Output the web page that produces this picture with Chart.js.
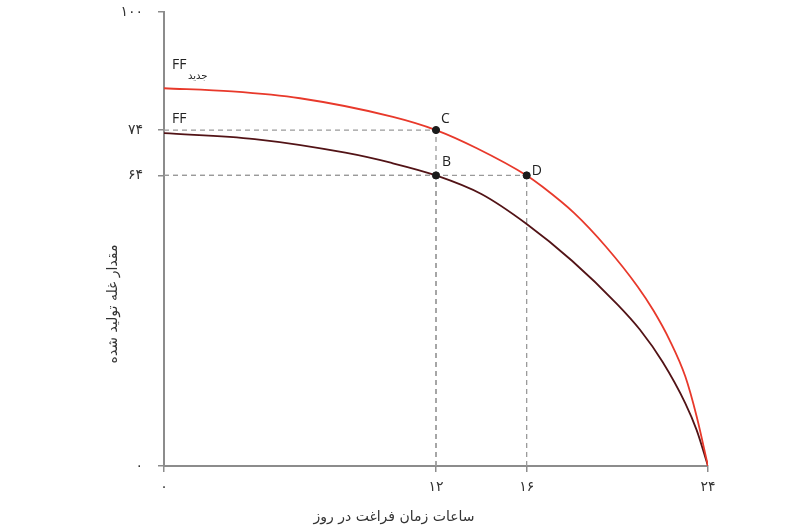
<!DOCTYPE html>
<html lang="fa">
<head>
<meta charset="utf-8">
<title>مرز امکانات</title>
<script src="https://cdn.jsdelivr.net/npm/chart.js@4.4.1/dist/chart.umd.min.js"></script>
<style>
  html, body { margin: 0; padding: 0; background: #fff; }
  #wrap { width: 810px; height: 530px; }
</style>
</head>
<body>
<div id="wrap"><canvas id="chart" width="810" height="530"></canvas></div>
<script>
// داده ها
const leisureTicks = [0, 12, 16, 24];
const grainTicks = [0, 64, 74, 100];

// FF
const ffLeisure = [0, 4, 8, 10, 12, 14, 16, 18, 20, 21, 22, 23, 23.5, 24];
const ffGrain = [73.3, 72.0, 69.0, 66.8, 64, 59.9, 53.3, 45.2, 35.6, 30.0, 22.9, 13.8, 7.9, 0];

// FF جدید
const ffNewLeisure = [0, 3, 6, 10.1, 12, 13.8, 16, 16.7, 18.1, 19.5, 20.9, 21.6, 22.3, 23.0, 23.5, 24];
const ffNewGrain = [83.2, 82.5, 81.0, 76.9, 74, 70.0, 64, 61.5, 55.7, 48.3, 39.5, 34.2, 27.8, 19.7, 10.9, 0];

// نقاط
const pointNames = ['C', 'B', 'D'];
const pointLeisure = [12, 12, 16];
const pointGrain = [74, 64, 64];

const xTitle = 'ساعات زمان فراغت در روز';
const yTitle = 'مقدار غله تولید شده';

const axisColor = '#8c8c8c';
const textColor = '#333';

function toPersian(v) {
    return String(v).replace(/\d/g, d => '۰۱۲۳۴۵۶۷۸۹'[d]);
}

function zip(xs, ys) {
    return xs.map((x, i) => ({ x: x, y: ys[i] }));
}

// خطوط راهنما (از محور به سمت نقطه، تا خط چین ها روی هم بیفتند)
const guideSets = [];
pointNames.forEach((name, i) => {
    const style = {
        borderColor: '#9a9a9a',
        borderWidth: 1.3,
        borderDash: [5, 4],
        pointRadius: 0,
        showLine: true,
        tension: 0
    };
    guideSets.push(Object.assign({ data: [{ x: 0, y: pointGrain[i] }, { x: pointLeisure[i], y: pointGrain[i] }] }, style));
    guideSets.push(Object.assign({ data: [{ x: pointLeisure[i], y: 0 }, { x: pointLeisure[i], y: pointGrain[i] }] }, style));
});

// متن ها
const labelsPlugin = {
    id: 'labels',
    afterDatasetsDraw(chart) {
        const ctx = chart.ctx;
        const xs = chart.scales.x;
        const ys = chart.scales.y;
        ctx.save();
        ctx.fillStyle = '#222';
        ctx.textAlign = 'left';
        ctx.textBaseline = 'alphabetic';

        // حروف نقاط
        const offsets = { C: [5, -7], B: [6, -9], D: [5, 0] };
        ctx.font = '14px "Open Sans", sans-serif';
        pointNames.forEach((name, i) => {
            const px = xs.getPixelForValue(pointLeisure[i]);
            const py = ys.getPixelForValue(pointGrain[i]);
            const o = offsets[name];
            ctx.fillText(name, px + o[0], py + o[1]);
        });

        // برچسب منحنی ها
        const x0 = xs.getPixelForValue(0);
        ctx.font = '14px "Open Sans", sans-serif';
        ctx.fillText('FF', x0 + 8, ys.getPixelForValue(ffGrain[0]) - 10);
        ctx.fillText('FF', x0 + 8, ys.getPixelForValue(ffNewGrain[0]) - 19);
        ctx.font = '10px "DejaVu Sans", sans-serif';
        ctx.fillText('جدید', x0 + 24, ys.getPixelForValue(ffNewGrain[0]) - 9);

        // عنوان محورها
        ctx.fillStyle = textColor;
        ctx.font = '14px "DejaVu Sans", sans-serif';
        ctx.textAlign = 'center';
        ctx.textBaseline = 'middle';
        ctx.fillText(xTitle, 394, 517);
        ctx.translate(113, 304);
        ctx.rotate(-Math.PI / 2);
        ctx.fillText(yTitle, 0, 0);
        ctx.restore();
    }
};

const chart = new Chart(document.getElementById('chart').getContext('2d'), {
    type: 'scatter',
    data: {
        datasets: [
            {
                data: zip(pointLeisure, pointGrain),
                backgroundColor: '#1b1b1b',
                borderColor: '#1b1b1b',
                pointRadius: 3.6,
                showLine: false
            },
            {
                data: zip(ffNewLeisure, ffNewGrain),
                borderColor: '#e8392b',
                borderWidth: 1.8,
                pointRadius: 0,
                showLine: true,
                cubicInterpolationMode: 'monotone'
            },
            {
                data: zip(ffLeisure, ffGrain),
                borderColor: '#521316',
                borderWidth: 1.8,
                pointRadius: 0,
                showLine: true,
                cubicInterpolationMode: 'monotone'
            },
            ...guideSets
        ]
    },
    options: {
        responsive: false,
        animation: false,
        devicePixelRatio: 1,
        layout: { padding: { top: 12, right: 102, left: 0, bottom: 0 } },
        plugins: {
            legend: { display: false },
            tooltip: { enabled: false }
        },
        scales: {
            x: {
                type: 'linear',
                min: 0,
                max: 24,
                afterBuildTicks: scale => { scale.ticks = leisureTicks.map(v => ({ value: v })); },
                afterFit: scale => {
                    scale.height = 64;
                    scale.paddingLeft = 0;
                    scale.paddingRight = 0;
                },
                ticks: {
                    callback: v => toPersian(v),
                    color: textColor,
                    padding: 7,
                    maxRotation: 0,
                    autoSkip: false,
                    font: { family: '"DejaVu Sans", sans-serif', size: 14 }
                },
                grid: { drawOnChartArea: false, drawTicks: true, tickLength: 6, color: axisColor, lineWidth: 1.5 },
                border: { color: axisColor, width: 2 }
            },
            y: {
                type: 'linear',
                min: 0,
                max: 100,
                afterBuildTicks: scale => { scale.ticks = grainTicks.map(v => ({ value: v })); },
                afterFit: scale => {
                    scale.width = 164;
                    scale.paddingTop = 0;
                    scale.paddingBottom = 0;
                },
                ticks: {
                    callback: v => toPersian(v),
                    color: textColor,
                    padding: 15,
                    autoSkip: false,
                    font: { family: '"DejaVu Sans", sans-serif', size: 14 }
                },
                grid: { drawOnChartArea: false, drawTicks: true, tickLength: 6, color: axisColor, lineWidth: 1.5 },
                border: { color: axisColor, width: 2 }
            }
        }
    },
    plugins: [labelsPlugin]
});
</script>
</body>
</html>
